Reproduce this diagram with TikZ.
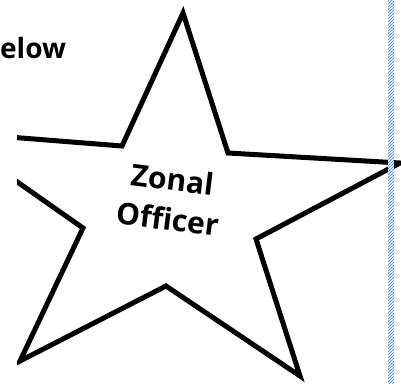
\documentclass[tikz,border=0pt]{standalone}
\usepackage{fontspec}
\setmainfont{Open Sans}[Ligatures=CommonOff]
\usetikzlibrary{patterns}
\definecolor{hatchblue}{RGB}{85,135,215}

\begin{document}
\begin{tikzpicture}[x=1pt, y=-1pt,
			starline/.style={draw, line width=5pt, line join=miter},
			lbl/.style={font=\bfseries\fontsize{30}{40}\selectfont, align=center, inner sep=0pt}]
			\useasboundingbox (0,0) rectangle (401,383);
			\node[lbl, anchor=base west, font=\bfseries\fontsize{28}{32}\selectfont] (below) at (0,58) {elow};
			\begin{scope}
				\clip (17,0) rectangle (401,383);
				\draw[starline] (183,13) -- (228,153) -- (400,163) -- (256,239) -- (300,376) -- (166,286)
					-- (20,361) -- (83,228) -- (-54,132) -- (122,146) -- cycle;
			\end{scope}
			\node[lbl, rotate=-7] (officer) at (170,199) {Zonal\\Officer};
			\fill[hatchblue!15] (388,0) rectangle (394,383);
			\fill[pattern=north east lines, pattern color=hatchblue] (388,0) rectangle (394,383);
		\end{tikzpicture}
\end{document}
